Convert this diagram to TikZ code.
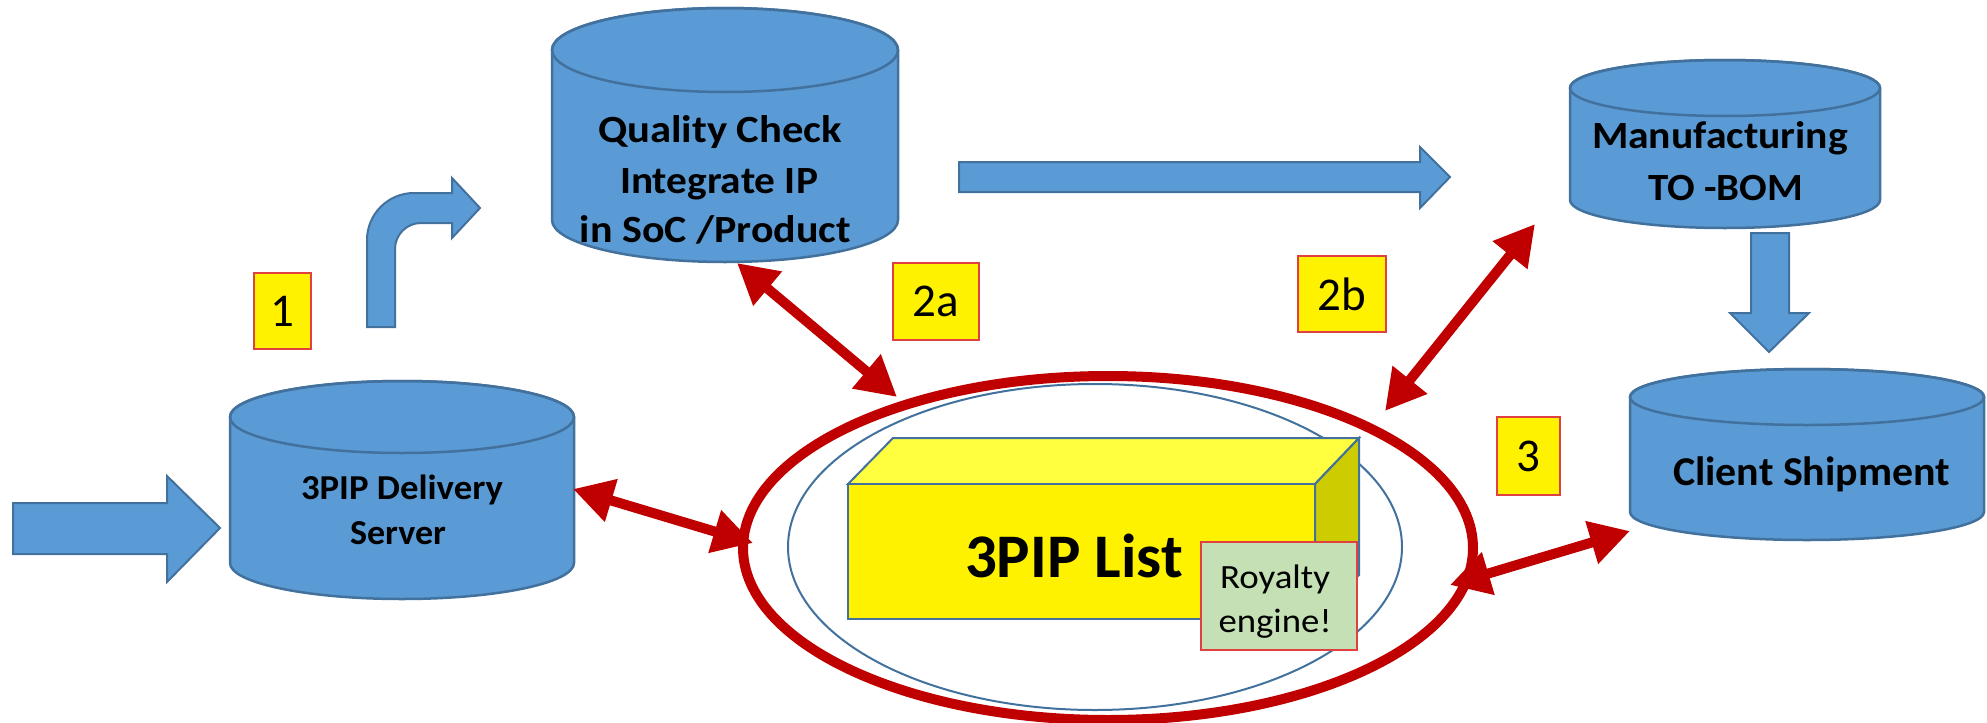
\documentclass[tikz,border=0pt]{standalone}
\usepackage{fontspec}
\usepackage{graphicx}
\setmainfont{Carlito}
\usetikzlibrary{arrows.meta}
\definecolor{cylblue}{HTML}{5B9BD5}
\definecolor{cylline}{HTML}{41719C}
\definecolor{darkred}{HTML}{C00000}
\definecolor{lblred}{HTML}{E04040}
\definecolor{royal}{HTML}{C5E0B4}
\definecolor{topyel}{HTML}{FFFF40}
\definecolor{sideyel}{HTML}{CCCC00}
\newcommand\mycyl[6]{%
  \filldraw[cylbody] ({#2-#5},{-#3}) -- ({#2-#5},{-#4})
    arc[start angle=180,end angle=360,x radius=#5,y radius=#6]
    -- ({#2+#5},{-#3})
    arc[start angle=0,end angle=180,x radius=#5,y radius=#6] -- cycle;
  \draw[cylbody,fill=none] (#2,{-#3}) ellipse[x radius=#5,y radius=#6];
  \coordinate (#1) at (#2,{-(#3+#4)/2});
}
\newcommand\fitw[2]{\resizebox{#1pt}{\height}{#2}}
\begin{document}
\begin{tikzpicture}[x=1pt,y=1pt,
  blockarrow/.style={fill=cylblue, draw=cylline, line width=2pt, line join=miter},
  cylbody/.style={fill=cylblue, draw=cylline, line width=2.5pt},
  redarrow/.style={draw=darkred, line width=10pt,
    {Triangle[length=40pt,width=42pt]}-{Triangle[length=40pt,width=42pt]}},
  lbl/.style={fill=yellow, draw=lblred, line width=1.5pt, inner sep=0pt,
    font=\fontsize{47}{55}\selectfont},
  cyltext/.style={font=\bfseries\fontsize{38.5}{42}\selectfont, anchor=base, inner sep=0pt},
  smalltext/.style={font=\bfseries\fontsize{35}{40}\selectfont, anchor=base, inner sep=0pt},
  clitext/.style={font=\bfseries\fontsize{41}{44}\selectfont, anchor=base, inner sep=0pt},
  roytext/.style={font=\fontsize{34}{40}\selectfont, anchor=base, inner sep=0pt},
  boxface/.style={draw=cylline, line width=2pt, line join=miter}
]
\useasboundingbox (0,0) rectangle (1987,-723);

% cylinders
\mycyl{qc}{725}{50}{220}{173}{42}
\mycyl{mfg}{1725}{88}{200}{155}{28}
\mycyl{dlv}{402}{417}{563}{172}{36}
\mycyl{cli}{1807}{397}{512}{177}{28}

\node[cyltext] (qc1) at (720,-142) {\fitw{244}{Quality Check}};
\node[cyltext] (qc2) at (719,-193) {\fitw{198}{Integrate IP}};
\node[cyltext] (qc3) at (715.5,-242) {\fitw{271}{in SoC /Product}};
\node[cyltext] (mf1) at (1720,-148) {\fitw{256}{Manufacturing}};
\node[cyltext] (mf2) at (1725.5,-200) {\fitw{155}{TO -BOM}};
\node[smalltext] (dl1) at (402,-499) {\fitw{202}{3PIP Delivery}};
\node[smalltext] (dl2) at (398,-544) {\fitw{96}{Server}};
\node[clitext] (cl1) at (1811.5,-485) {\fitw{277}{Client Shipment}};

% blue block arrows
\filldraw[blockarrow] (13,-503) -- (167,-503) -- (167,-476) -- (220,-528)
  -- (167,-582) -- (167,-554) -- (13,-554) -- cycle;
\filldraw[blockarrow] (959,-162) -- (1420,-162) -- (1420,-147) -- (1450,-177)
  -- (1420,-208) -- (1420,-192) -- (959,-192) -- cycle;
\filldraw[blockarrow] (1751,-233) -- (1789,-233) -- (1789,-313) -- (1809,-313)
  -- (1769,-352) -- (1730,-313) -- (1751,-313) -- cycle;
\filldraw[blockarrow] (367,-327) -- (367,-240) arc[start angle=180,end angle=90,radius=47]
  -- (452,-193) -- (452,-178) -- (480,-208) -- (452,-238) -- (452,-223) -- (421,-223)
  arc[start angle=90,end angle=180,radius=26] -- (395,-327) -- cycle;

% central ellipses
\draw[cylline, line width=2pt] (1095,-547) ellipse[x radius=307, y radius=163];
\draw[darkred, line width=10pt] (1108,-548) ellipse[x radius=365, y radius=172];

% 3D box
\filldraw[boxface, fill=topyel] (848,-484) -- (893,-438) -- (1359,-438) -- (1315,-484) -- cycle;
\filldraw[boxface, fill=sideyel] (1315,-484) -- (1359,-438) -- (1359,-575) -- (1315,-619) -- cycle;
\filldraw[boxface, fill=yellow] (848,-484) rectangle (1315,-619);
\node[font=\bfseries\fontsize{62}{70}\selectfont, anchor=base, inner sep=0pt] (list) at (1074,-577) {\fitw{218}{3PIP List}};

% royalty box
\node[fill=royal, draw=lblred, line width=1.5pt, minimum width=156pt, minimum height=108pt, inner sep=0pt] (roy) at (1279,-596) {};
\node[roytext] (ry1) at (1275,-588) {\fitw{110}{Royalty}};
\node[roytext] (ry2) at (1275,-632) {\fitw{113}{engine!}};

% labels
\node[lbl, minimum width=57pt, minimum height=76pt] (l1) at (282.5,-311) {1};
\node[lbl, minimum width=86pt, minimum height=77pt] (l2a) at (936,-301.5) {2a};
\node[lbl, minimum width=88pt, minimum height=76pt] (l2b) at (1342,-294) {2b};
\node[lbl, minimum width=63pt, minimum height=78pt] (l3) at (1528.5,-456) {3};

% red double arrows
\coordinate (a2s) at (737,-263);
\coordinate (a2e) at (897,-397);
\coordinate (b2s) at (1535,-224);
\coordinate (b2e) at (1385,-411);
\coordinate (ds) at (573,-489);
\coordinate (de) at (753,-543);
\coordinate (cs) at (1450,-585);
\coordinate (ce) at (1630,-531);
\draw[redarrow] (a2s) -- (a2e);
\draw[redarrow] (b2s) -- (b2e);
\draw[redarrow] (ds) -- (de);
\draw[redarrow] (cs) -- (ce);
\end{tikzpicture}
\end{document}
